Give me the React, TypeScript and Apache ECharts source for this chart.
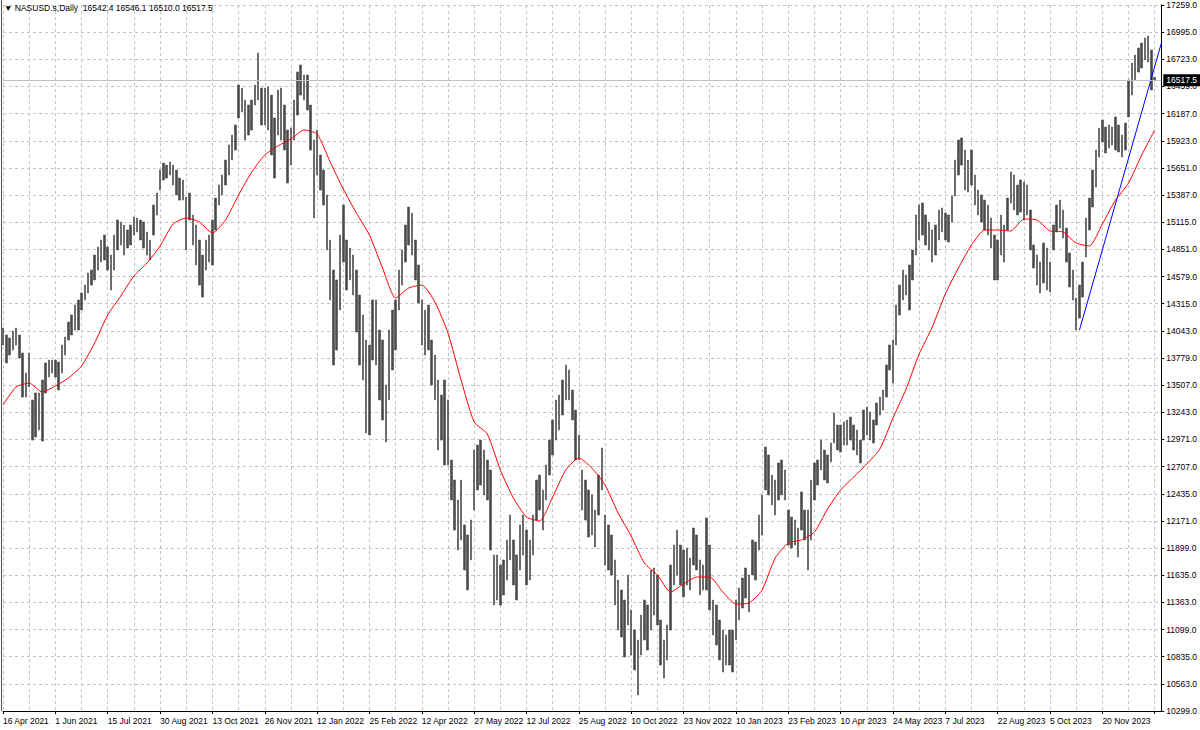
import React, { useEffect, useRef } from 'react';
import * as echarts from 'echarts';

const symbolName = 'NASUSD.s,Daily';
const lastBar = { open: 16542.4, high: 16546.1, low: 16510.0, close: 16517.5 };

const xTickLabels = [
  '16 Apr 2021', '1 Jun 2021', '15 Jul 2021', '30 Aug 2021', '13 Oct 2021', '26 Nov 2021',
  '12 Jan 2022', '25 Feb 2022', '12 Apr 2022', '27 May 2022', '12 Jul 2022', '25 Aug 2022',
  '10 Oct 2022', '23 Nov 2022', '10 Jan 2023', '23 Feb 2023', '10 Apr 2023', '24 May 2023',
  '7 Jul 2023', '22 Aug 2023', '5 Oct 2023', '20 Nov 2023',
];

const yTickLabels = [
  '10299.0', '10563.0', '10835.0', '11099.0', '11363.0', '11635.0', '11899.0', '12171.0', '12435.0',
  '12707.0', '12971.0', '13243.0', '13507.0', '13779.0', '14043.0', '14315.0', '14579.0', '14851.0',
  '15115.0', '15387.0', '15651.0', '15923.0', '16187.0', '16459.0', '16723.0', '16995.0', '17259.0',
];
const Y_MIN = 10299;
const Y_MAX = 17259;

// one bar per two trading days (the last one is the current day)
const barHighs = [
  14075, 14006, 13976, 14045, 14075, 14006, 13828, 13631,
  13828, 13365, 13434, 13434, 13562, 13730, 13759, 13759,
  13759, 13739, 13907, 13986, 14134, 14203, 14301, 14351,
  14420, 14498, 14617, 14646, 14794, 14873, 14942, 14991,
  14873, 14794, 14991, 15139, 15120, 15090, 15041, 15090,
  15169, 15159, 15139, 15120, 15021, 14942, 15287, 15405,
  15632, 15701, 15681, 15711, 15681, 15632, 15553, 15534,
  15366, 15405, 15189, 15090, 14942, 14794, 14942, 14991,
  15139, 15356, 15484, 15583, 15731, 15879, 15977, 16076,
  16470, 16440, 16322, 16273, 16322, 16470, 16786, 16440,
  16440, 16450, 16371, 16145, 16421, 16440, 16273, 16026,
  16046, 16322, 16598, 16667, 16569, 16569, 16273, 15928,
  16026, 15780, 15632, 15386, 14942, 14646, 14548, 14991,
  15287, 14942, 14863, 14794, 14646, 14400, 14203, 13956,
  13907, 14351, 14351, 14055, 13956, 13513, 14055, 14252,
  14351, 14646, 14844, 15090, 15267, 15208, 14942, 14696,
  14351, 14252, 14301, 13956, 13808, 13562, 13414, 13562,
  13365, 12773, 12576, 12379, 12576, 12133, 12034, 12182,
  12872, 12921, 12970, 12872, 12773, 12675, 11837, 11837,
  11738, 11788, 11985, 12231, 11985, 11837, 12133, 12231,
  12083, 11985, 12231, 12576, 12625, 12478, 12724, 12970,
  13168, 13365, 13414, 13562, 13710, 13661, 13463, 13266,
  13020, 12675, 12576, 12478, 12429, 12280, 12625, 12892,
  12231, 12133, 12034, 11788, 11590, 11492, 11393, 11640,
  11295, 11097, 10999, 11245, 11393, 11344, 11689, 11709,
  11640, 11196, 10999, 11147, 11738, 11935, 12083, 11935,
  11886, 11906, 11807, 12103, 12034, 11788, 11738, 12202,
  11935, 11393, 11344, 11196, 11097, 11048, 11097, 11097,
  11393, 11512, 11610, 11709, 11640, 11985, 11965, 12231,
  12429, 12901, 12823, 12625, 12576, 12744, 12773, 12675,
  12280, 12211, 12182, 12103, 12458, 12280, 12280, 12576,
  12744, 12773, 12970, 12872, 12823, 12941, 13237, 13118,
  13118, 13148, 13168, 13197, 13118, 13069, 12970, 13266,
  13296, 13247, 13168, 13335, 13394, 13463, 13710, 13907,
  13956, 14301, 14498, 14646, 14597, 14696, 14844, 15189,
  15287, 15307, 15189, 15120, 15041, 15090, 15238, 15258,
  15208, 15189, 15376, 15731, 15928, 15948, 15829, 15731,
  15829, 15583, 15435, 15386, 15336, 15287, 15159, 14991,
  14942, 15189, 15090, 15356, 15612, 15583, 15484, 15534,
  15514, 15484, 15238, 14893, 14794, 14725, 14913, 14863,
  14725, 15090, 15287, 15336, 15238, 15060, 14814, 14646,
  14371, 14498, 14725, 15159, 15356, 15632, 15829, 16046,
  16125, 16056, 16076, 16056, 16155, 16076, 15977, 16095,
  16520, 16687, 16766, 16835, 16884, 16934, 16953, 16815,
  16546.1,
];

const barLows = [
  13907, 13730, 13808, 13858, 13907, 13779, 13394, 13394,
  13493, 12970, 13000, 13069, 12960, 13434, 13591, 13631,
  13591, 13463, 13631, 13808, 13956, 14006, 14055, 14055,
  14252, 14351, 14420, 14498, 14548, 14646, 14725, 14745,
  14646, 14449, 14646, 14844, 14893, 14794, 14863, 14893,
  14991, 15021, 14942, 14863, 14794, 14745, 14991, 15189,
  15435, 15534, 15553, 15583, 15484, 15386, 15336, 15336,
  14844, 15139, 14893, 14696, 14498, 14380, 14646, 14725,
  14696, 15041, 15287, 15386, 15484, 15583, 15731, 15829,
  16145, 16204, 15928, 15977, 16026, 16273, 16322, 16076,
  16076, 16026, 15780, 15553, 15977, 15928, 15829, 15504,
  15681, 15928, 16174, 16371, 16322, 16224, 15829, 15159,
  15583, 15435, 15287, 14844, 14351, 13710, 13858, 14252,
  14725, 14449, 14548, 14400, 14035, 13710, 13562, 13040,
  13020, 13759, 13710, 13365, 13168, 12951, 13365, 13661,
  13858, 14252, 14498, 14725, 14893, 14794, 14548, 14321,
  13907, 13808, 13858, 13513, 13365, 12872, 12970, 12724,
  12724, 12379, 12083, 11886, 11985, 11689, 11492, 11788,
  12280, 12478, 12527, 12429, 12379, 11886, 11344, 11393,
  11344, 11443, 11590, 11788, 11541, 11393, 11689, 11837,
  11541, 11590, 11837, 12182, 12280, 12083, 12379, 12625,
  12823, 12970, 13069, 13217, 13365, 13365, 13168, 12773,
  12773, 12280, 12182, 12014, 12034, 11916, 12231, 12478,
  11738, 11689, 11640, 11344, 11097, 11028, 10831, 11147,
  10851, 10703, 10457, 10851, 10999, 10900, 11097, 11245,
  11147, 10752, 10624, 10802, 11097, 11541, 11640, 11541,
  11423, 11541, 11492, 11738, 11689, 11443, 11492, 11492,
  11295, 11048, 10950, 10802, 10683, 10752, 10752, 10683,
  10999, 11196, 11314, 11413, 11275, 11640, 11590, 11886,
  12034, 12478, 12429, 12330, 12231, 12379, 12429, 12379,
  11935, 11906, 11935, 11817, 12083, 11985, 11689, 11985,
  12379, 12527, 12675, 12576, 12547, 12754, 12941, 12872,
  12852, 12921, 12921, 12970, 12872, 12823, 12744, 12970,
  13020, 12970, 12941, 13118, 13217, 13266, 13394, 13661,
  13532, 13907, 14203, 14351, 14400, 14252, 14548, 14794,
  14942, 14991, 14893, 14844, 14725, 14794, 14942, 15021,
  14942, 14922, 15120, 15376, 15583, 15681, 15435, 15415,
  15484, 15287, 15189, 15120, 15041, 14991, 14863, 14548,
  14548, 14794, 14725, 15041, 15307, 15238, 15189, 15218,
  15139, 15189, 14844, 14666, 14498, 14420, 14519, 14449,
  14430, 14844, 15021, 15060, 14962, 14725, 14479, 14351,
  14055, 14173, 14380, 14774, 15041, 15267, 15465, 15760,
  15908, 15800, 15849, 15879, 15829, 15810, 15760, 15829,
  16155, 16371, 16520, 16598, 16638, 16717, 16697, 16421,
  16510.0,
];

// red moving average, read every 4 bars: [bar index, value]
const maPoints: [number, number][] = [
  [0, 13316], [4, 13493], [8, 13532], [12, 13444], [16, 13503], [20, 13582], [24, 13700], [28, 13927],
  [32, 14203], [36, 14390], [40, 14587], [44, 14715], [48, 14883], [52, 15100], [56, 15159], [60, 15120],
  [64, 15011], [68, 15139], [72, 15386], [76, 15612], [80, 15780], [84, 15869], [88, 15938], [92, 16026],
  [96, 15987], [100, 15711], [104, 15445], [108, 15208], [112, 14991], [116, 14666], [120, 14370], [124, 14469],
  [128, 14498], [132, 14331], [136, 14025], [140, 13562], [144, 13148], [148, 13030], [152, 12675], [156, 12399],
  [160, 12211], [164, 12172], [168, 12409], [172, 12675], [176, 12793], [180, 12694], [184, 12527], [188, 12251],
  [192, 12024], [196, 11758], [200, 11640], [204, 11472], [208, 11551], [212, 11620], [216, 11620], [220, 11472],
  [224, 11354], [228, 11364], [232, 11492], [236, 11807], [240, 11955], [244, 11985], [248, 12064], [252, 12290],
  [256, 12478], [260, 12606], [264, 12734], [268, 12882], [272, 13187], [276, 13473], [280, 13818], [284, 14084],
  [288, 14410], [292, 14666], [296, 14893], [300, 15041], [304, 15041], [308, 15031], [312, 15149], [316, 15139],
  [320, 15031], [324, 15021], [328, 14913], [332, 14883], [336, 15100], [340, 15336], [344, 15504], [348, 15780],
  [352, 16026],
];

// blue trend line: [bar index, value]
const trendLine: [number, number][] = [[328.7, 14055], [353.5, 16880]];

const FONT = '"Liberation Sans", Arial, sans-serif';
const GRID_COLOR = '#c4c4c4';
const BAR_COLOR = '#4a4a4a';

export default function App() {
  const ref = useRef<HTMLDivElement>(null);

  useEffect(() => {
    const chart = echarts.init(ref.current as HTMLDivElement, null, { renderer: 'svg' });
    const categories = Array.from({ length: barHighs.length + 2 }, (_, i) => String(i));
    const candles = barHighs.map((h, i) => [barLows[i], h, barLows[i], h]);
    const interval = (Y_MAX - Y_MIN) / (yTickLabels.length - 1);

    chart.setOption({
      animation: false,
      backgroundColor: '#ffffff',
      title: {
        text: `\u25BC ${symbolName}  ${lastBar.open.toFixed(1)} ${lastBar.high.toFixed(1)} ${lastBar.low.toFixed(1)} ${lastBar.close.toFixed(1)}`,
        left: 4,
        top: 3,
        padding: 0,
        textStyle: { fontSize: 8.5, fontWeight: 'normal', color: '#000', fontFamily: FONT },
      },
      grid: { left: 2.5, right: 36, top: 5, bottom: 19, containLabel: false },
      xAxis: {
        type: 'category',
        data: categories,
        boundaryGap: false,
        axisLine: { show: true, onZero: false, lineStyle: { color: '#000', width: 1 } },
        axisTick: { show: true, length: 3, interval: (i: number) => i % 16 === 0, lineStyle: { color: '#000' } },
        axisLabel: {
          show: true,
          interval: (i: number) => i % 16 === 0,
          formatter: (_v: string, i: number) => xTickLabels[i / 16] ?? '',
          align: 'left',
          margin: 5,
          fontSize: 8.5,
          color: '#000',
          fontFamily: FONT,
        },
        splitLine: {
          show: true,
          interval: (i: number) => i % 8 === 0,
          lineStyle: { color: GRID_COLOR, type: [3, 3], width: 1 },
        },
      },
      yAxis: {
        type: 'value',
        position: 'right',
        min: Y_MIN,
        max: Y_MAX - 0.001,
        interval,
        axisLine: { show: true, lineStyle: { color: '#000', width: 1 } },
        axisTick: { show: true, length: 3, lineStyle: { color: '#000' } },
        axisLabel: {
          margin: 5,
          fontSize: 8.5,
          color: '#000',
          fontFamily: FONT,
          formatter: (v: number) => yTickLabels[Math.round((v - Y_MIN) / interval)] ?? '',
        },
        splitLine: { show: true, lineStyle: { color: GRID_COLOR, type: [3, 3], width: 1 } },
      },
      graphic: [
        { type: 'line', shape: { x1: 1.5, y1: 0, x2: 1.5, y2: 711 }, style: { stroke: '#555', lineWidth: 1 }, silent: true },
      ],
      series: [
        {
          type: 'candlestick',
          data: candles,
          barWidth: 2,
          silent: true,
          itemStyle: {
            color: BAR_COLOR,
            color0: BAR_COLOR,
            borderColor: BAR_COLOR,
            borderColor0: BAR_COLOR,
            borderWidth: 0.6,
          },
          markLine: {
            silent: true,
            symbol: ['none', 'none'],
            lineStyle: { color: '#c0c0c0', width: 1, type: 'solid' },
            label: {
              show: true,
              position: 'end',
              distance: 2,
              formatter: lastBar.close.toFixed(1),
              backgroundColor: '#000',
              color: '#fff',
              padding: [2, 3, 1, 3],
              fontSize: 8.5,
              fontFamily: FONT,
            },
            data: [{ yAxis: lastBar.close }],
          },
        },
        {
          type: 'line',
          data: maPoints,
          symbol: 'none',
          smooth: 0.2,
          silent: true,
          lineStyle: { color: '#ff0000', width: 1 },
          z: 3,
        },
        {
          type: 'line',
          data: trendLine,
          symbol: 'none',
          silent: true,
          lineStyle: { color: '#0000ff', width: 1 },
          z: 4,
        },
      ],
    });

    return () => chart.dispose();
  }, []);

  return (
    <div
      ref={ref}
      style={{ position: 'fixed', left: 0, top: 0, width: 1200, height: 730, background: '#fff' }}
    />
  );
}
